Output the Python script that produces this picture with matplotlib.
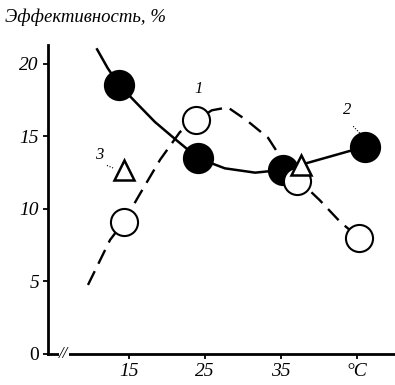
import matplotlib
matplotlib.use("Agg")
import matplotlib.pyplot as plt

# --- data ---
# series 2: filled circles with solid curve
s2_x = [13.7, 24.1, 35.3, 46.1]
s2_y = [18.55, 13.5, 12.7, 14.3]
# series 1: open circles with dashed curve
s1_x = [14.3, 23.8, 37.1, 45.3]
s1_y = [9.1, 16.1, 11.9, 8.0]
# series 3: triangles
s3_x = [14.3, 37.6]
s3_y = [12.7, 13.0]

# hand-drawn curves
solid_x = [10.8, 12.2, 13.7, 15.8, 18.4, 21.1, 24.1, 27.6, 31.6, 35.3, 46.1]
solid_y = [21.0, 19.7, 18.55, 17.4, 16.0, 14.8, 13.5, 12.8, 12.5, 12.7, 14.3]
dash_x = [9.6, 12.5, 14.3, 16.4, 19.1, 21.7, 23.8, 25.9, 28.0, 30.5, 33.3, 34.9, 37.1, 40.1, 42.8, 45.3]
dash_y = [4.76, 7.86, 9.1, 11.0, 13.4, 15.3, 16.1, 16.8, 17.0, 16.1, 14.9, 13.6, 12.1, 10.6, 9.1, 8.0]

# curve labels with leader lines
lab_text = ["1", "2", "3"]
lab_x = [24.2, 43.7, 11.1]
lab_y = [17.7, 16.3, 13.2]
lead_x0 = [24.2, 44.5, 12.1]
lead_y0 = [17.0, 15.7, 13.0]
lead_x1 = [24.1, 45.4, 13.0]
lead_y1 = [16.7, 15.2, 12.8]

yticks = [0, 5, 10, 15, 20]
ytick_labels = ["0", "5", "10", "15", "20"]
xticks = [15, 25, 35, 45]
xtick_labels = ["15", "25", "35", "°C"]
title = "Эффективность, %"

serif = ["Liberation Serif", "DejaVu Serif"]

fig = plt.figure(figsize=(3.95, 3.85), dpi=100)
ax = fig.add_axes([48/395, 31/385, 347/395, 309/385])
ax.set_xlim(4.34, 50)
ax.set_ylim(0, 21.3)

for s in ["top", "right"]:
    ax.spines[s].set_visible(False)
for s in ["left", "bottom"]:
    ax.spines[s].set_linewidth(2.0)
    ax.spines[s].set_color("black")

ax.plot(solid_x, solid_y, color="black", lw=1.8, zorder=2)
ax.plot(dash_x, dash_y, color="black", lw=1.7, dashes=(6.5, 3.5), zorder=2)

ax.plot(s2_x, s2_y, "o", ms=21, mfc="black", mec="black", mew=1.5, ls="none", zorder=3)
ax.plot(s1_x, s1_y, "o", ms=19.5, mfc="white", mec="black", mew=1.5, ls="none", zorder=4)
ax.plot(s3_x, s3_y, "^", ms=15, mfc="white", mec="black", mew=1.8, ls="none", zorder=5)

for t, x, y, x0, y0, x1, y1 in zip(lab_text, lab_x, lab_y, lead_x0, lead_y0, lead_x1, lead_y1):
    ax.text(x, y, t, family=serif, style="italic", fontsize=12, ha="center", va="bottom")
    ax.plot([x0, x1], [y0, y1], color="black", lw=0.8, ls=(0, (1, 1.5)), zorder=2)

ax.set_yticks(yticks)
ax.set_yticklabels(ytick_labels)
ax.set_xticks(xticks)
ax.set_xticklabels(xtick_labels)
ax.tick_params(axis="both", direction="out", length=3.5, width=1.3, labelsize=14, pad=3)
for lbl in ax.get_yticklabels() + ax.get_xticklabels():
    lbl.set_family(serif)
    lbl.set_style("italic")
ax.get_yticklabels()[0].set_style("normal")

# axis break mark
ax.text(0.045, 0.0, "//", transform=ax.transAxes, family=serif, style="italic",
        fontsize=12, ha="center", va="center", color="black",
        bbox=dict(facecolor="white", edgecolor="none", pad=0.3))

fig.text(5/395, 1 - 17/385, title, family=serif, style="italic", fontsize=13.5,
         ha="left", va="center")

fig.savefig("out.png", dpi=100)
